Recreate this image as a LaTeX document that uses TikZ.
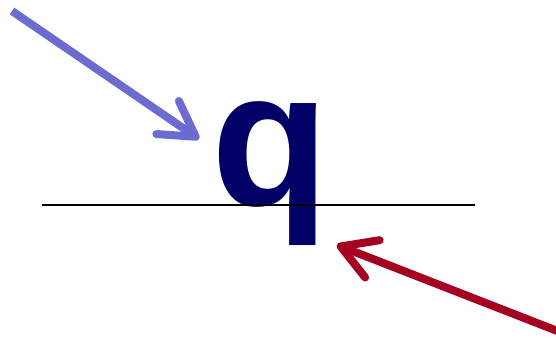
\documentclass[tikz,border=0pt]{standalone}
\usepackage{fontspec}
\setmainfont{Liberation Sans}
\usetikzlibrary{arrows.meta}

\definecolor{qnavy}{RGB}{0,0,102}
\definecolor{inblue}{RGB}{107,107,208}
\definecolor{outred}{RGB}{165,0,33}

\begin{document}
\begin{tikzpicture}[
    x=1pt, y=-1pt,
    vec/.style={line width=8pt, -{Straight Barb[length=34pt, width=40pt, line cap=round, round]}}
]

% frame of the picture
\useasboundingbox (0,0) rectangle (556,342);

% the letter on its baseline
\node[text=qnavy, inner sep=0pt, anchor=base, font=\fontsize{193}{193}\bfseries\selectfont] (q) at (270,205) {q};

% baseline
\coordinate (BL) at (42,205);
\coordinate (BR) at (475,205);
\draw[line width=1.6pt] (BL) -- (BR);

% incoming arrow (top left)
\coordinate (A1) at (12,11);
\coordinate (A2) at (199,139);
\draw[vec, draw=inblue] (A1) -- (A2);

% outgoing arrow (bottom right)
\coordinate (B1) at (560,332);
\coordinate (B2) at (337,245);
\draw[vec, draw=outred] (B1) -- (B2);

\end{tikzpicture}
\end{document}
